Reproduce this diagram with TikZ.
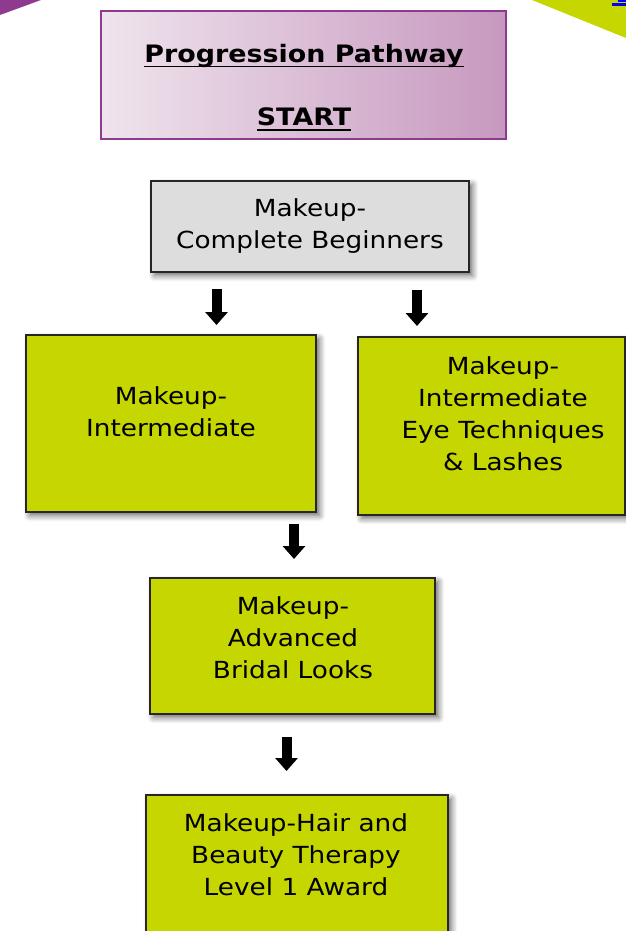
\documentclass[tikz,border=0pt]{standalone}
\usepackage{fontspec}
\setmainfont{DejaVu Sans}[FakeStretch=1.12]
\usepackage{tikz}
\usetikzlibrary{arrows.meta,shadows.blur}

\definecolor{lime}{RGB}{197,214,0}
\definecolor{plum}{RGB}{142,58,142}
\definecolor{plumlight}{RGB}{239,228,237}
\definecolor{plumdark}{RGB}{199,152,191}
\definecolor{boxgrey}{RGB}{221,221,221}
\definecolor{linkblue}{RGB}{0,0,255}

\newsavebox{\ulbox}
\newcommand{\thickul}[1]{\sbox{\ulbox}{#1}\rlap{\rule[-4.5pt]{\wd\ulbox}{1.8pt}}\usebox{\ulbox}}

\begin{document}
\begin{tikzpicture}[
		x=1pt, y=-1pt,
		every node/.style={rectangle, inner sep=0pt, align=center, font=\fontsize{23.5}{32}\selectfont},
		shade/.style={blur shadow={shadow xshift=3.5pt, shadow yshift=-3.5pt, shadow blur radius=6pt, shadow blur steps=8, shadow opacity=60}},
		stage/.style={draw=black!85, line width=1.3pt, fill=lime, shade},
		gostep/.style={line width=10pt, -{Triangle[width=22pt, length=13pt]}}
	]
  \useasboundingbox (0,0) rectangle (626,931);
  \clip (0,0) rectangle (626,931);
  % page corners
  \fill[plum] (0,0) -- (41,0) -- (0,15) -- cycle;
  \fill[lime] (532,0) -- (626,0) -- (626,38) -- cycle;
  \fill[linkblue] (618,0) rectangle (626,2.5);
  \fill[linkblue] (612,3.5) rectangle (626,6.5);
  % title
  \node (path_box) [draw=plum, line width=2pt, left color=plumlight, right color=plumdark, minimum width=405pt, minimum height=128pt] at (303.5,75) {};
  \node (path_title) [anchor=base, font=\bfseries\fontsize{24}{30}\selectfont] at (304,63) {\thickul{Progression Pathway}};
  \node (path_start) [anchor=base, font=\bfseries\fontsize{24}{30}\selectfont] at (304,126) {\thickul{START}};
  % courses
  \node (beginners) [draw=black!85, line width=1.3pt, fill=boxgrey, shade, minimum width=318pt, minimum height=91pt] at (310,226.5) {Makeup-\\Complete Beginners};
  \node (intermediate) [stage, minimum width=290pt, minimum height=177pt] at (171,423.5) {};
  \node (intermediate_label) at (171,412) {Makeup-\\Intermediate};
  \node (eyes) [stage, minimum width=267pt, minimum height=178pt] at (491.5,426) {};
  \node (eyes_label) at (503,413.5) {Makeup-\\Intermediate\\Eye Techniques\\\& Lashes};
  \node (bridal) [stage, minimum width=285pt, minimum height=136pt] at (292.5,646) {};
  \node (bridal_label) at (293,638) {Makeup-\\Advanced\\Bridal Looks};
  \node (award) [stage, minimum width=302pt, minimum height=150pt] at (297,870) {};
  \node (award_label) at (296,855) {Makeup-Hair and\\Beauty Therapy\\Level 1 Award};
  % arrows
  \coordinate (to_inter_top) at (216.5,289);
  \coordinate (to_inter_tip) at (216.5,325);
  \coordinate (to_eyes_top) at (417,290);
  \coordinate (to_eyes_tip) at (417,326);
  \coordinate (to_bridal_top) at (294,524);
  \coordinate (to_bridal_tip) at (294,559);
  \coordinate (to_award_top) at (286.5,737);
  \coordinate (to_award_tip) at (286.5,771);
  \draw[gostep] (to_inter_top) -- (to_inter_tip);
  \draw[gostep] (to_eyes_top) -- (to_eyes_tip);
  \draw[gostep] (to_bridal_top) -- (to_bridal_tip);
  \draw[gostep] (to_award_top) -- (to_award_tip);
\end{tikzpicture}
\end{document}
